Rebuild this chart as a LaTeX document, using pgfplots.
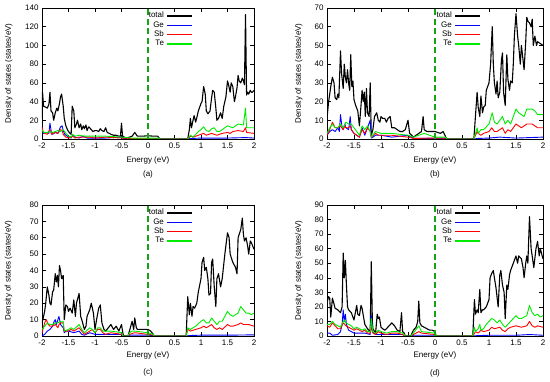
\documentclass[border=0pt]{standalone}
\usepackage{fontspec}
\setmainfont{Liberation Sans}
\usepackage{pgfplots}
\pgfplotsset{compat=1.18}
\definecolor{fermigreen}{RGB}{20,165,20}
\definecolor{tegreen}{RGB}{0,235,0}
\pgfplotsset{
 dos/.style={
  scale only axis, height=131pt, xmin=-2, xmax=2, ymin=0,
  xtick={-2,-1.5,-1,-0.5,0,0.5,1,1.5,2},
  xticklabels={-2,-1.5,-1,-0.5,0,0.5,1,1.5,2},
  /pgf/number format/assume math mode=true,
  tick label style={font=\fontsize{8}{9}\selectfont},
  label style={font=\fontsize{8}{9}\selectfont},
  axis line style={line width=0.6pt},
  major tick style={line width=0.5pt, black},
  major tick length=4pt,
  minor tick num=0,
  xlabel={Energy (eV)},
  ylabel={Density of states (states/eV)},
  xlabel style={at={(axis description cs:0.5,0)}, anchor=center, yshift=-21pt},
  legend style={draw=none, fill=none, font=\fontsize{8}{9}\selectfont, anchor=north east, at={(0.712,0.975)}, inner sep=0pt, row sep=0pt, column sep=2pt, nodes={inner sep=0.5pt, text height=6pt, text depth=2.3pt}},
  legend plot pos=right,
  legend cell align=right,
  legend image code/.code={\draw[##1, line width=1.3pt] (0pt,0pt) -- (25pt,0pt);},
 },
 dosTot/.style={color=black, line width=1.1pt, line join=round},
 dosGe/.style={color=blue, line width=0.9pt, line join=round},
 dosSb/.style={color=red, line width=0.9pt, line join=round},
 dosTe/.style={color=tegreen, line width=0.9pt, line join=round},
 dosFermi/.style={color=fermigreen, line width=1.2pt, dash pattern=on 6pt off 3.5pt, forget plot},
}
\begin{document}
\begin{tikzpicture}
\path[use as bounding box] (0,0) rectangle (550pt,382pt);
% ---------------- (a)
\begin{axis}[dos, name=a, at={(42pt,243pt)}, anchor=south west, width=212pt, ymax=140,
  ytick={0,20,40,60,80,100,120,140},
  ylabel style={at={(axis description cs:-0.157,0.5)}, anchor=center}]
\addplot[dosTot] coordinates {(-2,22)(-1.99,50)(-1.97,35)(-1.93,34)(-1.9,33)(-1.87,37)(-1.85,50)(-1.83,30)(-1.8,28)(-1.78,20)(-1.75,28)(-1.72,33)(-1.7,30)(-1.67,38)(-1.65,45)(-1.63,48)(-1.6,35)(-1.58,22)(-1.55,14)(-1.52,10)(-1.5,8)(-1.47,6)(-1.45,5)(-1.43,35)(-1.4,30)(-1.38,12)(-1.35,16)(-1.33,20)(-1.3,12)(-1.27,16)(-1.25,10)(-1.22,14)(-1.2,11)(-1.17,15)(-1.15,9)(-1.12,13)(-1.1,12)(-1.07,10)(-1.04,8)(-1,9)(-0.97,9)(-0.93,8)(-0.9,11)(-0.87,9)(-0.83,8)(-0.8,12)(-0.77,7)(-0.73,6)(-0.7,5)(-0.65,4)(-0.6,4)(-0.55,3)(-0.52,3)(-0.5,17)(-0.48,3)(-0.45,2)(-0.4,1)(-0.35,2)(-0.3,3)(-0.25,7)(-0.2,3)(-0.15,3)(-0.1,3)(0,3.5)(0.1,3)(0.18,3)(0.2,2)(0.22,0)(0.75,0)(0.78,10)(0.8,22)(0.82,12)(0.85,20)(0.87,25)(0.9,18)(0.93,25)(0.95,30)(1,38)(1.02,40)(1.05,56)(1.08,48)(1.1,30)(1.13,27)(1.17,30)(1.2,44)(1.22,52)(1.25,50)(1.28,33)(1.3,20)(1.33,22)(1.37,28)(1.4,22)(1.43,35)(1.47,45)(1.5,62)(1.52,58)(1.55,50)(1.57,60)(1.6,56)(1.63,40)(1.65,45)(1.68,55)(1.7,68)(1.72,62)(1.75,60)(1.78,65)(1.8,62)(1.82,58)(1.84,133)(1.86,47)(1.88,50)(1.9,48)(1.93,52)(1.95,50)(1.97,50)(2,52)};
\addlegendentry{total}
\addplot[dosGe] coordinates {(-2,8)(-1.97,6)(-1.9,7)(-1.87,6)(-1.85,17)(-1.82,6)(-1.8,5)(-1.75,7)(-1.7,6)(-1.65,13)(-1.62,14)(-1.6,9)(-1.57,5)(-1.5,2)(-1.45,1)(-1.42,4)(-1.38,2)(-1.3,1)(-1.22,3)(-1.15,1)(-1,1)(-0.8,1)(-0.5,2)(-0.45,0.5)(0,0.5)(0.2,0.3)(0.22,0)(0.75,0)(0.8,0.5)(1,1)(1.5,1)(1.84,1.5)(2,1)};
\addlegendentry{Ge}
\addplot[dosSb] coordinates {(-2,13)(-1.98,8)(-1.95,6)(-1.9,5)(-1.85,10)(-1.82,5)(-1.75,7)(-1.7,6)(-1.65,10)(-1.62,9)(-1.6,5)(-1.55,2)(-1.5,1)(-1.45,2)(-1.42,3)(-1.38,1)(-1.3,2)(-1.2,2)(-1.1,2)(-1,1)(-0.8,2)(-0.5,1)(-0.3,0.5)(0,0.5)(0.22,0)(0.75,0)(0.8,3)(0.85,2)(0.95,4)(1.05,6)(1.1,4)(1.2,6)(1.25,5)(1.3,4)(1.4,6)(1.5,7)(1.55,6)(1.6,8)(1.7,9)(1.8,8)(1.84,12)(1.86,7)(2,6)};
\addlegendentry{Sb}
\addplot[dosTe] coordinates {(-2,10)(-1.97,7)(-1.9,7)(-1.85,8)(-1.8,7)(-1.75,8)(-1.7,9)(-1.65,8)(-1.6,10)(-1.55,6)(-1.5,3)(-1.45,2)(-1.42,5)(-1.38,3)(-1.3,4)(-1.2,3)(-1.1,3)(-1,3)(-0.8,3)(-0.5,2)(-0.3,1)(0,1)(0.2,1)(0.22,0)(0.75,0)(0.8,4)(0.85,2)(0.9,5)(0.95,8)(1,10)(1.05,13)(1.1,9)(1.15,8)(1.2,11)(1.25,12)(1.3,8)(1.35,8)(1.45,12)(1.5,14)(1.55,13)(1.6,12)(1.7,16)(1.8,15)(1.84,33)(1.86,12)(2,12)};
\addlegendentry{Te}
\addplot[dosFermi] coordinates {(0,0)(0,140)};
\end{axis}
\node[font=\fontsize{8}{9}\selectfont] at ([yshift=-35.5pt]a.south) {(a)};
% ---------------- (b)
\begin{axis}[dos, name=b, at={(327pt,243pt)}, anchor=south west, width=216pt, ymax=70,
  ytick={0,10,20,30,40,50,60,70},
  ylabel style={at={(axis description cs:-0.131,0.5)}, anchor=center}]
\addplot[dosTot] coordinates {(-2,11)(-1.97,20)(-1.93,28)(-1.9,33)(-1.87,30)(-1.85,22)(-1.82,21)(-1.8,24)(-1.78,22)(-1.75,47)(-1.73,35)(-1.7,27)(-1.68,40)(-1.66,33)(-1.64,30)(-1.62,37)(-1.6,30)(-1.58,26)(-1.56,45)(-1.54,28)(-1.52,31)(-1.5,21)(-1.47,18)(-1.43,15)(-1.4,7)(-1.37,18)(-1.35,26)(-1.33,20)(-1.31,25)(-1.29,12)(-1.27,27)(-1.25,14)(-1.22,12)(-1.2,30)(-1.18,2)(-1.15,5)(-1.12,12)(-1.08,14)(-1.05,10)(-1.02,9)(-1,12)(-0.97,11)(-0.93,11)(-0.9,9)(-0.87,11)(-0.83,12)(-0.8,6)(-0.75,6)(-0.7,5)(-0.65,4)(-0.6,4)(-0.55,5)(-0.5,10)(-0.47,3)(-0.43,2)(-0.4,1)(-0.35,2)(-0.3,3)(-0.25,4)(-0.22,12)(-0.2,5)(-0.15,4)(-0.1,4)(0,4)(0.1,3)(0.15,4)(0.2,1)(0.22,0)(0.72,0)(0.78,25)(0.8,17)(0.83,12)(0.85,23)(0.88,14)(0.9,17)(0.93,18)(0.95,26)(1,30)(1.03,40)(1.06,60)(1.08,40)(1.1,30)(1.13,24)(1.15,31)(1.17,22)(1.2,25)(1.23,42)(1.25,46)(1.27,25)(1.3,18)(1.33,45)(1.35,32)(1.38,26)(1.4,31)(1.43,30)(1.45,40)(1.47,55)(1.5,67)(1.53,55)(1.55,50)(1.58,40)(1.6,50)(1.62,45)(1.65,37)(1.68,52)(1.7,65)(1.72,63)(1.75,62)(1.78,60)(1.8,64)(1.82,50)(1.85,55)(1.88,50)(1.9,52)(2,50)};
\addlegendentry{total}
\addplot[dosGe] coordinates {(-2,2)(-1.95,4)(-1.9,5)(-1.85,4)(-1.8,6)(-1.77,4)(-1.75,13)(-1.72,6)(-1.7,5)(-1.67,8)(-1.65,6)(-1.6,5)(-1.57,12)(-1.55,5)(-1.5,3)(-1.45,2)(-1.4,1)(-1.35,6)(-1.3,2)(-1.25,6)(-1.2,10)(-1.18,0.5)(-1.15,1)(-1.1,2)(-1.05,2)(-1,2)(-0.8,1)(-0.5,2)(-0.4,0.3)(0,0.3)(0.2,0.3)(0.22,0)(0.72,0)(0.8,0.3)(1,0.5)(1.2,1)(1.5,0.5)(2,1)};
\addlegendentry{Ge}
\addplot[dosSb] coordinates {(-2,2)(-1.95,5)(-1.9,9)(-1.85,6)(-1.8,6)(-1.75,7)(-1.7,5)(-1.67,7)(-1.65,6)(-1.6,6)(-1.57,7)(-1.55,5)(-1.5,3)(-1.45,2)(-1.4,1)(-1.35,5)(-1.3,3)(-1.25,6)(-1.2,4)(-1.18,1)(-1.1,3)(-1.05,2)(-1,2)(-0.8,2)(-0.5,1)(-0.4,0.3)(0,0.5)(0.2,0.5)(0.22,0)(0.72,0)(0.78,4)(0.8,3)(0.85,2)(0.9,3)(1,4)(1.05,6)(1.1,4)(1.15,4)(1.25,6)(1.3,3)(1.35,5)(1.4,4)(1.5,8)(1.55,7)(1.6,6)(1.7,8)(1.8,8)(1.9,6)(2,6)};
\addlegendentry{Sb}
\addplot[dosTe] coordinates {(-2,3)(-1.95,6)(-1.9,8)(-1.85,6)(-1.8,6)(-1.75,8)(-1.7,6)(-1.65,9)(-1.6,8)(-1.55,8)(-1.5,6)(-1.45,4)(-1.4,2)(-1.35,7)(-1.3,5)(-1.25,7)(-1.2,4)(-1.18,1)(-1.1,4)(-1,3)(-0.9,3)(-0.8,3)(-0.5,2)(-0.4,1)(-0.2,3)(0,1)(0.2,1)(0.22,0)(0.72,0)(0.78,6)(0.8,3)(0.85,5)(0.9,5)(1,8)(1.06,14)(1.1,9)(1.15,8)(1.2,10)(1.25,12)(1.3,8)(1.35,10)(1.4,8)(1.5,16)(1.55,14)(1.6,13)(1.65,12)(1.7,16)(1.8,16)(1.85,15)(1.9,13)(2,13)};
\addlegendentry{Te}
\addplot[dosFermi] coordinates {(0,0)(0,70)};
\end{axis}
\node[font=\fontsize{8}{9}\selectfont] at ([yshift=-35.5pt]b.south) {(b)};
% ---------------- (c)
\begin{axis}[dos, name=c, at={(42pt,46pt)}, anchor=south west, width=212pt, ymax=80,
  ytick={0,10,20,30,40,50,60,70,80},
  xlabel style={yshift=2pt},
  ylabel style={at={(axis description cs:-0.158,0.5)}, anchor=center}]
\addplot[dosTot] coordinates {(-2,8)(-1.97,12)(-1.95,15)(-1.93,20)(-1.9,30)(-1.87,25)(-1.85,20)(-1.83,19)(-1.8,27)(-1.78,28)(-1.75,38)(-1.73,33)(-1.71,37)(-1.69,30)(-1.67,43)(-1.65,40)(-1.63,35)(-1.6,37)(-1.58,10)(-1.55,19)(-1.52,18)(-1.5,15)(-1.47,17)(-1.43,14)(-1.4,22)(-1.37,12)(-1.35,20)(-1.3,26)(-1.27,12)(-1.25,10)(-1.2,4)(-1.17,6)(-1.15,12)(-1.1,16)(-1.07,20)(-1.03,14)(-1,4)(-0.97,10)(-0.93,17)(-0.9,19)(-0.87,8)(-0.83,4)(-0.8,3)(-0.75,5)(-0.7,7)(-0.65,4)(-0.6,6)(-0.55,3)(-0.5,7)(-0.47,1)(-0.45,0)(-0.38,0)(-0.35,3)(-0.3,9)(-0.27,4)(-0.25,11)(-0.22,5)(-0.2,4)(-0.1,4)(0,4)(0.05,3)(0.1,1)(0.12,0)(0.72,0)(0.75,24)(0.78,13)(0.8,20)(0.83,12)(0.85,18)(0.88,17)(0.92,20)(0.95,27)(1,35)(1.02,45)(1.05,48)(1.07,40)(1.1,42)(1.13,35)(1.15,25)(1.18,26)(1.2,45)(1.22,47)(1.25,30)(1.28,18)(1.3,35)(1.33,38)(1.37,30)(1.4,35)(1.45,50)(1.5,63)(1.53,60)(1.55,50)(1.6,45)(1.65,42)(1.68,38)(1.7,60)(1.75,65)(1.78,72)(1.8,62)(1.82,58)(1.85,60)(1.88,55)(1.9,50)(1.93,58)(1.95,57)(2,53)};
\addlegendentry{total}
\addplot[dosGe] coordinates {(-2,0)(-1.95,1)(-1.9,3)(-1.85,4)(-1.8,6)(-1.77,9)(-1.75,10)(-1.73,7)(-1.7,10)(-1.68,12)(-1.65,7)(-1.6,5)(-1.58,2)(-1.55,3)(-1.5,3)(-1.4,2)(-1.3,3)(-1.25,1)(-1.2,0.5)(-1.1,2)(-1,1)(-0.9,1)(-0.8,1)(-0.5,1)(-0.47,0)(-0.38,0)(-0.35,0.5)(0,0.5)(0.1,0.3)(0.12,0)(0.72,0)(0.8,0.3)(1,0.5)(1.5,0.5)(2,0.7)};
\addlegendentry{Ge}
\addplot[dosSb] coordinates {(-2,2)(-1.95,8)(-1.92,10)(-1.88,7)(-1.85,6)(-1.8,6)(-1.75,7)(-1.7,5)(-1.68,7)(-1.65,8)(-1.6,8)(-1.58,3)(-1.5,3)(-1.45,4)(-1.4,3)(-1.3,5)(-1.25,3)(-1.2,1)(-1.1,3)(-1.05,4)(-1,2)(-0.95,4)(-0.9,4)(-0.85,2)(-0.8,1)(-0.7,2)(-0.5,1)(-0.47,0)(-0.38,0)(-0.35,1)(-0.25,2)(0,1)(0.1,0.5)(0.12,0)(0.72,0)(0.75,4)(0.8,3)(0.9,4)(1,5)(1.05,6)(1.1,5)(1.2,7)(1.25,5)(1.3,4)(1.35,5)(1.4,4)(1.5,7)(1.55,6)(1.6,6)(1.7,7)(1.75,8)(1.8,7)(1.9,7)(2,6)};
\addlegendentry{Sb}
\addplot[dosTe] coordinates {(-2,4)(-1.95,6)(-1.9,8)(-1.85,7)(-1.8,7)(-1.75,8)(-1.7,8)(-1.65,9)(-1.6,9)(-1.58,3)(-1.5,4)(-1.45,5)(-1.4,4)(-1.3,7)(-1.25,4)(-1.2,2)(-1.1,5)(-1.05,4)(-1,2)(-0.95,5)(-0.9,5)(-0.85,3)(-0.8,3)(-0.7,3)(-0.5,2)(-0.47,0)(-0.38,0)(-0.35,2)(-0.3,3)(-0.25,3)(0,2)(0.1,1)(0.12,0)(0.72,0)(0.75,5)(0.8,4)(0.85,5)(0.9,6)(1,9)(1.05,10)(1.1,8)(1.15,8)(1.2,11)(1.25,9)(1.3,7)(1.35,9)(1.4,9)(1.5,15)(1.55,13)(1.6,12)(1.7,14)(1.75,18)(1.8,16)(1.85,14)(1.9,14)(1.95,13)(2,14)};
\addlegendentry{Te}
\addplot[dosFermi] coordinates {(0,0)(0,80)};
\end{axis}
\node[font=\fontsize{8}{9}\selectfont] at ([yshift=-36.5pt]c.south) {(c)};
% ---------------- (d)
\begin{axis}[dos, name=d, at={(327pt,46pt)}, anchor=south west, width=216pt, ymax=90,
  ytick={0,10,20,30,40,50,60,70,80,90},
  xlabel style={yshift=2pt},
  ylabel style={at={(axis description cs:-0.131,0.5)}, anchor=center}]
\addplot[dosTot] coordinates {(-2,23)(-1.97,27)(-1.95,26)(-1.93,13)(-1.9,26)(-1.87,22)(-1.85,19)(-1.8,18)(-1.75,16)(-1.72,20)(-1.7,57)(-1.68,40)(-1.66,52)(-1.64,35)(-1.62,20)(-1.6,18)(-1.55,16)(-1.5,11)(-1.47,17)(-1.45,21)(-1.43,15)(-1.4,14)(-1.37,21)(-1.35,19)(-1.3,8)(-1.25,5)(-1.2,3)(-1.18,51)(-1.16,10)(-1.15,5)(-1.1,2)(-1.07,15)(-1.05,12)(-1.03,13)(-1,6)(-0.97,5)(-0.93,4)(-0.9,5)(-0.85,7)(-0.8,9)(-0.75,7)(-0.7,4)(-0.65,3)(-0.62,16)(-0.6,3)(-0.57,2)(-0.55,0)(-0.45,0)(-0.4,4)(-0.35,6)(-0.32,10)(-0.3,24)(-0.28,9)(-0.25,7)(-0.2,6)(-0.15,5)(-0.1,4)(-0.05,4)(0,3)(0.02,0)(0.7,0)(0.73,25)(0.75,15)(0.78,18)(0.8,16)(0.83,32)(0.85,16)(0.88,18)(0.9,18)(0.95,20)(1,25)(1.02,40)(1.05,43)(1.08,45)(1.1,40)(1.13,33)(1.17,20)(1.2,42)(1.22,45)(1.25,35)(1.28,30)(1.3,12)(1.33,35)(1.35,32)(1.38,42)(1.4,45)(1.45,50)(1.5,55)(1.53,50)(1.55,55)(1.6,53)(1.63,47)(1.65,40)(1.68,50)(1.7,55)(1.72,50)(1.75,82)(1.78,60)(1.8,55)(1.83,47)(1.87,60)(1.9,65)(1.93,55)(1.95,60)(2,53)};
\addlegendentry{total}
\addplot[dosGe] coordinates {(-2,2)(-1.95,2)(-1.9,0.5)(-1.8,1)(-1.75,3)(-1.72,8)(-1.7,18)(-1.68,10)(-1.66,15)(-1.64,8)(-1.6,4)(-1.5,2)(-1.4,2)(-1.3,2)(-1.2,1)(-1.18,14)(-1.16,3)(-1.1,1)(-1,1)(-0.9,1)(-0.7,1)(-0.6,1)(-0.55,0)(-0.45,0)(-0.4,0.5)(0,0.5)(0.02,0)(0.7,0)(0.8,0.3)(1,0.5)(1.5,0.5)(1.75,1)(2,0.5)};
\addlegendentry{Ge}
\addplot[dosSb] coordinates {(-2,7)(-1.95,6)(-1.9,9)(-1.85,7)(-1.8,5)(-1.75,5)(-1.7,9)(-1.67,8)(-1.65,7)(-1.6,6)(-1.55,5)(-1.5,4)(-1.45,5)(-1.4,4)(-1.35,3)(-1.3,4)(-1.25,2)(-1.2,2)(-1.18,6)(-1.15,2)(-1.1,1)(-1.05,3)(-1,2)(-0.9,1)(-0.8,2)(-0.7,2)(-0.6,1)(-0.55,0)(-0.45,0)(-0.4,1)(-0.3,3)(-0.25,2)(0,1)(0.02,0)(0.7,0)(0.75,3)(0.8,2)(0.85,4)(0.9,3)(1,4)(1.05,6)(1.1,5)(1.2,6)(1.25,4)(1.3,3)(1.35,5)(1.4,6)(1.5,7)(1.6,6)(1.7,7)(1.75,10)(1.8,7)(1.85,6)(1.9,7)(2,6)};
\addlegendentry{Sb}
\addplot[dosTe] coordinates {(-2,8)(-1.95,8)(-1.9,10)(-1.85,8)(-1.8,7)(-1.75,6)(-1.7,10)(-1.67,11)(-1.65,9)(-1.6,8)(-1.55,7)(-1.5,5)(-1.45,6)(-1.4,5)(-1.35,4)(-1.3,5)(-1.25,3)(-1.2,3)(-1.18,12)(-1.15,3)(-1.1,2)(-1.05,4)(-1,3)(-0.9,2)(-0.8,3)(-0.7,3)(-0.6,2)(-0.55,0)(-0.45,0)(-0.4,2)(-0.3,7)(-0.25,3)(0,2)(0.02,0)(0.7,0)(0.73,6)(0.75,3)(0.8,5)(0.83,8)(0.85,4)(0.9,5)(0.95,8)(1,10)(1.05,12)(1.1,11)(1.15,9)(1.2,11)(1.25,8)(1.3,6)(1.35,8)(1.4,10)(1.45,12)(1.5,14)(1.55,12)(1.6,12)(1.7,14)(1.75,21)(1.8,16)(1.85,14)(1.9,15)(1.95,13)(2,14)};
\addlegendentry{Te}
\addplot[dosFermi] coordinates {(0,0)(0,90)};
\end{axis}
\node[font=\fontsize{8}{9}\selectfont] at ([yshift=-37pt]d.south) {(d)};
\end{tikzpicture}
\end{document}
